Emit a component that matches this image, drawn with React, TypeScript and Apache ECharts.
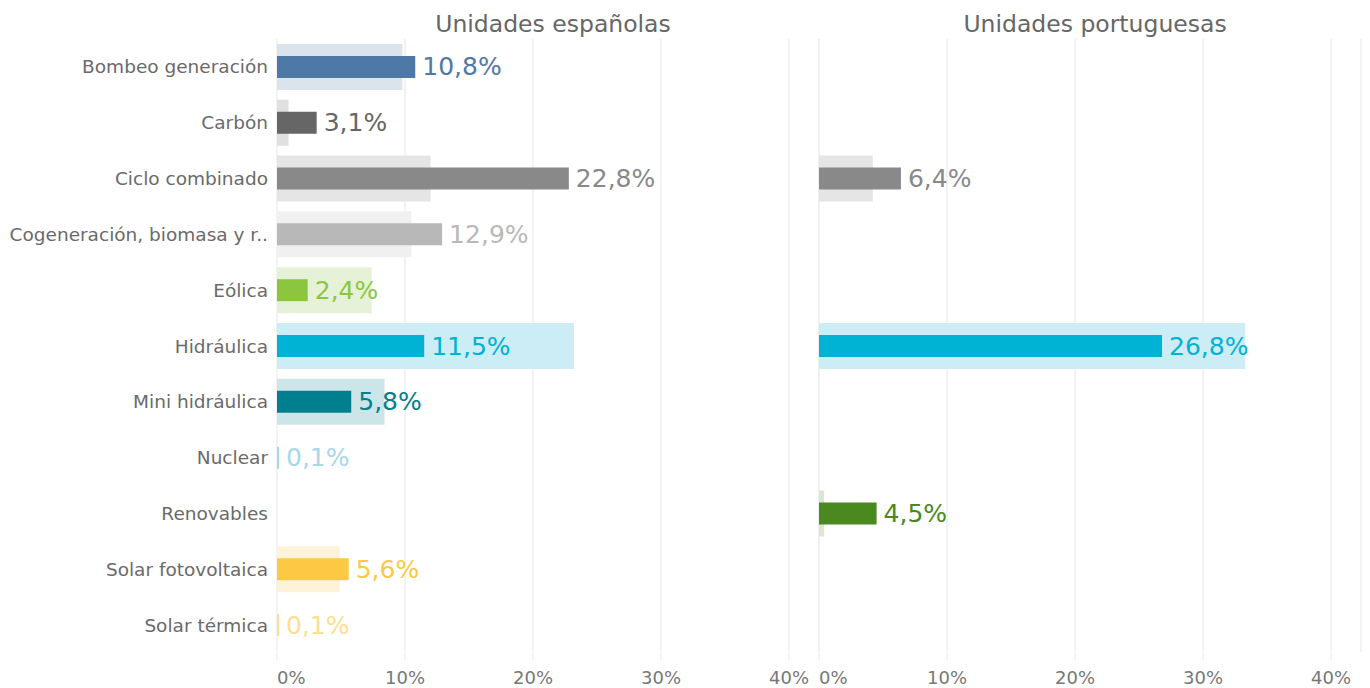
import React, { useEffect, useRef } from "react";
import * as echarts from "echarts";

const categories = [
  "Bombeo generación",
  "Carbón",
  "Ciclo combinado",
  "Cogeneración, biomasa y r..",
  "Eólica",
  "Hidráulica",
  "Mini hidráulica",
  "Nuclear",
  "Renovables",
  "Solar fotovoltaica",
  "Solar térmica",
];

const esActual: (number | null)[] = [10.8, 3.1, 22.8, 12.9, 2.4, 11.5, 5.8, 0.1, null, 5.6, 0.1];
const esPrevious: (number | null)[] = [9.8, 0.9, 12.0, 10.5, 7.4, 23.2, 8.4, 0.05, null, 4.9, 0.05];
const ptActual: (number | null)[] = [null, null, 6.4, null, null, 26.8, null, null, 4.5, null, null];
const ptPrevious: (number | null)[] = [null, null, 4.2, null, null, 33.3, null, null, 0.4, null, null];

const darkColors = [
  "#4e79a7", "#666666", "#898989", "#b8b8b8", "#8cc63f", "#00b2d3",
  "#00808e", "#a5d9ea", "#4a891e", "#fdc944", "#fde08f",
];
const lightColors = [
  "#dbe3ed", "#e0e0e0", "#e5e5e5", "#eff0ef", "#e6f2d8", "#ccedf5",
  "#cce5e8", "#e6f4f9", "#dbe7d2", "#fef3d9", "#fef6e3",
];

const panelTitles = ["Unidades españolas", "Unidades portuguesas"];
const xTicks = [0, 10, 20, 30, 40];

const FONT = "DejaVu Sans";

function fmt(v: number) {
  return v.toFixed(1).replace(".", ",") + "%";
}

export default function App() {
  const ref = useRef<HTMLDivElement>(null);
  useEffect(() => {
    if (!ref.current) return;
    const chart = echarts.init(ref.current, null, { renderer: "svg" });
    const axisMax = 542 / 12.8;
    const grids = [
      { left: 277, top: 39, width: 542, height: 614 },
      { left: 819, top: 39, width: 542, height: 614 },
    ];
    const xAxis = [0, 1].map((g) => ({
      type: "value",
      gridIndex: g,
      min: 0,
      max: axisMax,
      interval: 10,
      axisLine: { show: true, lineStyle: { color: "#ffffff", width: 2 } },
      axisTick: { show: true, length: 7, lineStyle: { color: "#eeeeee", width: 1.5 } },
      splitLine: { show: true, lineStyle: { color: "#efefef", width: 1.5 } },
      axisLabel: {
        fontFamily: FONT,
        fontSize: 18,
        lineHeight: 18,
        color: "#777777",
        margin: 15,
        showMaxLabel: false,
        alignMinLabel: "left",
        formatter: (v: number) => (xTicks.indexOf(Math.round(v)) >= 0 && Math.abs(v - Math.round(v)) < 1e-6 ? v + "%" : ""),
      },
    }));
    const yAxis: any[] = [];
    [0, 1].forEach((g) => {
      yAxis.push({
        type: "category",
        gridIndex: g,
        data: categories,
        inverse: true,
        axisLine: { show: false },
        axisTick: { show: false },
        axisLabel: {
          show: g === 0,
          fontFamily: FONT,
          fontSize: 18.5,
          color: "#6a6a6a",
          margin: 9,
        },
      });
      yAxis.push({
        type: "category",
        gridIndex: g,
        data: categories,
        inverse: true,
        show: false,
      });
    });
    const mk = (vals: (number | null)[], colors: string[], withLabel: boolean) =>
      vals.map((v, i) =>
        v == null
          ? "-"
          : {
              value: v,
              itemStyle: { color: colors[i] },
              label: withLabel ? { color: darkColors[i] } : undefined,
            }
      );
    const labelCfg = {
      show: true,
      position: "right",
      distance: 7,
      fontFamily: FONT,
      fontSize: 25,
      formatter: (p: any) => fmt(p.value),
    };
    const series = [
      { type: "bar", xAxisIndex: 0, yAxisIndex: 0, barWidth: 46, data: mk(esPrevious, lightColors, false), silent: true },
      { type: "bar", xAxisIndex: 0, yAxisIndex: 1, barWidth: 22, barMinHeight: 2, data: mk(esActual, darkColors, true), label: labelCfg },
      { type: "bar", xAxisIndex: 1, yAxisIndex: 2, barWidth: 46, data: mk(ptPrevious, lightColors, false), silent: true },
      { type: "bar", xAxisIndex: 1, yAxisIndex: 3, barWidth: 22, barMinHeight: 2, data: mk(ptActual, darkColors, true), label: labelCfg },
    ];
    chart.setOption({
      animation: false,
      backgroundColor: "#ffffff",
      title: [
        { text: panelTitles[0], left: 548, top: 7, textAlign: "center", textStyle: { fontFamily: FONT, fontSize: 23.5, fontWeight: "normal", color: "#666666" } },
        { text: panelTitles[1], left: 1090, top: 7, textAlign: "center", textStyle: { fontFamily: FONT, fontSize: 23.5, fontWeight: "normal", color: "#666666" } },
      ],
      grid: grids,
      xAxis,
      yAxis,
      series,
    } as any);
    return () => chart.dispose();
  }, []);
  return <div ref={ref} style={{ position: "absolute", left: 0, top: 0, width: 1370, height: 688 }} />;
}
